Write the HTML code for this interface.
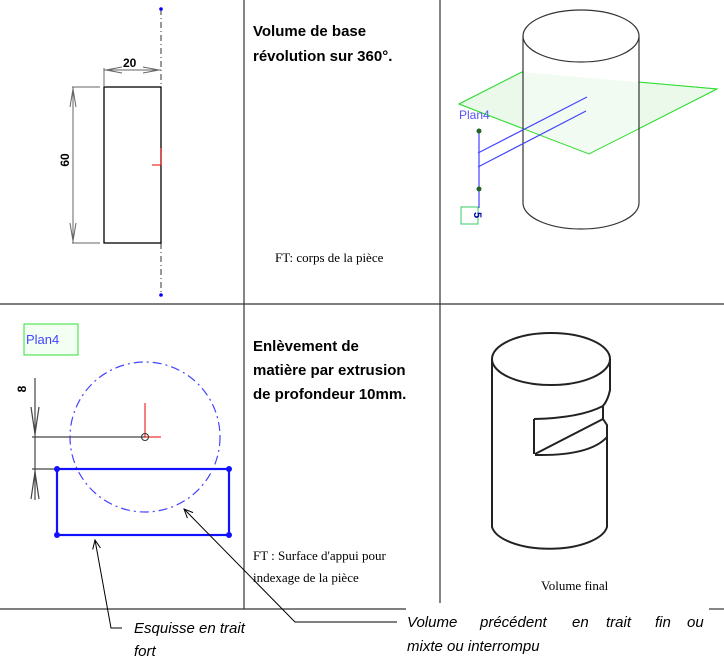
<!DOCTYPE html>
<html><head><meta charset="utf-8"><style>
body{margin:0;background:#fff;}
svg{display:block;}
.b{font-family:"Liberation Sans",sans-serif;font-weight:bold;font-size:15px;fill:#000;}
.t{font-family:"Liberation Serif",serif;font-size:13px;fill:#000;}
.i{font-family:"Liberation Sans",sans-serif;font-style:italic;font-size:15px;fill:#000;}
</style></head><body>
<svg width="724" height="667" viewBox="0 0 724 667" xmlns="http://www.w3.org/2000/svg">
<defs>
<marker id="ah" markerWidth="10" markerHeight="10" refX="9" refY="5" orient="auto" markerUnits="userSpaceOnUse"><path d="M0,1 L9,5 L0,9" fill="none" stroke="#000" stroke-width="1"/></marker>
</defs>
<g stroke="#333" stroke-width="1.2" fill="none">
<line x1="244" y1="0" x2="244" y2="609"/>
<line x1="440" y1="0" x2="440" y2="603"/>
<line x1="0" y1="304" x2="724" y2="304"/>
<line x1="0" y1="609" x2="406" y2="609"/>
<line x1="709" y1="609" x2="724" y2="609"/>
</g>
<line x1="161" y1="9" x2="161" y2="295" stroke="#333" stroke-width="1" stroke-dasharray="6,3,1,3"/>
<circle cx="161" cy="9" r="1.8" fill="#00f"/><circle cx="161" cy="295" r="1.8" fill="#00f"/>
<rect x="104" y="87" width="57" height="156" fill="none" stroke="#000" stroke-width="1.3"/>
<g stroke="#666" stroke-width="1" fill="none">
<line x1="104" y1="68" x2="104" y2="87"/><line x1="104" y1="70" x2="161" y2="70"/>
<line x1="72" y1="87" x2="100" y2="87"/><line x1="72" y1="243" x2="100" y2="243"/>
<line x1="73" y1="87" x2="73" y2="243"/>
<path d="M70,107 L73,89 L76,107 M70,223 L73,241 L76,223"/>
<path d="M122,67 L106,70 L122,73 M143,67 L159,70 L143,73"/>
</g>
<text x="123" y="67" style="font-family:'Liberation Sans',sans-serif;font-weight:bold;font-size:12px">20</text>
<text transform="translate(69,160) rotate(-90)" text-anchor="middle" style="font-family:'Liberation Sans',sans-serif;font-weight:bold;font-size:12px">60</text>
<path d="M161,148 L161,165 L152,165" stroke="#e00" fill="none" stroke-width="1"/>
<text x="253" y="36" class="b">Volume de base</text>
<text x="253" y="61" class="b">révolution sur 360°.</text>
<text x="275" y="262" class="t">FT: corps de la pièce</text>
<!-- top right 3D -->
<polygon points="459,104 522,72 717,89 589,154" fill="#eefaee" stroke="#3d3" stroke-width="1"/>
<path d="M523,36 L523,203 A58,26 0 0 0 639,203 L639,36 Z" fill="#fff" stroke="none"/>
<polygon points="459,104 522,72 717,89 589,154" fill="#e6f8e6" fill-opacity="0.5" stroke="none"/>
<path d="M459,104 L589,154 L717,89 L639,82 M523,73 L522,72 L459,104" fill="none" stroke="#3d3" stroke-width="1"/>
<g stroke="#333" stroke-width="1.2" fill="none">
<path d="M523,36 L523,203 A58,26 0 0 0 639,203 L639,36"/>
<ellipse cx="581" cy="36" rx="58" ry="26" fill="#fff"/>
</g>
<g stroke="#44f" stroke-width="1.2" fill="none">
<line x1="478" y1="153" x2="587" y2="97"/>
<line x1="478" y1="167" x2="586" y2="111"/>
<line x1="479" y1="130" x2="479" y2="208"/>
</g>
<circle cx="479" cy="131" r="2.5" fill="#262"/><circle cx="479" cy="189" r="2.5" fill="#262"/>
<text x="459" y="119" style="font-family:'Liberation Sans',sans-serif;font-size:12px;fill:#55f">Plan4</text>
<rect x="461" y="207" width="17" height="17" fill="#fff" stroke="#3c6" stroke-width="1"/>
<text transform="translate(474,215) rotate(90)" text-anchor="middle" style="font-family:'Liberation Sans',sans-serif;font-weight:bold;font-size:11px;fill:#00a">5</text>
<!-- middle left -->
<rect x="24" y="324" width="54" height="31" fill="#f4fff4" stroke="#3d3" stroke-width="1"/>
<text x="26" y="344" style="font-family:'Liberation Sans',sans-serif;font-size:13px;fill:#44f">Plan4</text>
<circle cx="145" cy="437" r="75" fill="none" stroke="#44f" stroke-width="1.2" stroke-dasharray="9,4,2,4"/>
<g stroke="#444" stroke-width="1.2" fill="none">
<line x1="32" y1="437" x2="145" y2="437"/>
<line x1="32" y1="469" x2="229" y2="469"/>
<line x1="35" y1="378" x2="35" y2="500"/>
<path d="M31,407 L35,434 L39,407 M31,499 L35,472 L39,499"/>
</g>
<text transform="translate(26,389) rotate(-90)" text-anchor="middle" style="font-family:'Liberation Sans',sans-serif;font-weight:bold;font-size:12px">8</text>
<path d="M145,437 L145,403 M145,437 L161,437" stroke="#e00" stroke-width="1" fill="none"/>
<circle cx="145" cy="437" r="3.5" fill="none" stroke="#333"/>
<rect x="57" y="469" width="172" height="66" fill="none" stroke="#11f" stroke-width="2.2"/>
<g fill="#11f"><circle cx="57" cy="469" r="3"/><circle cx="229" cy="469" r="3"/><circle cx="57" cy="535" r="3"/><circle cx="229" cy="535" r="3"/></g>
<polyline points="122,628 111,628 95,540" fill="none" stroke="#000" stroke-width="1" marker-end="url(#ah)"/>
<polyline points="397,622 295,622 184,509" fill="none" stroke="#000" stroke-width="1" marker-end="url(#ah)"/>
<text x="253" y="351" class="b">Enlèvement de</text>
<text x="253" y="375" class="b">matière par extrusion</text>
<text x="253" y="399" class="b">de profondeur  10mm.</text>
<text x="253" y="560" class="t">FT : Surface d'appui pour</text>
<text x="253" y="582" class="t">indexage de la pièce</text>
<g stroke="#222" stroke-width="2" fill="none">
<ellipse cx="551" cy="359" rx="59" ry="26"/>
<path d="M492,359 L492,527 A58,25 0 0 0 607,527 L607,425 L603,419"/>
<path d="M610,359 L610,390 Q608,400 603,406 L603,419"/>
<path d="M534,419 L534,454 M534,419 Q580,418 603,406 M535,454 L603,419 M535,455 Q590,456 607,437"/>
</g>
<text x="541" y="590" class="t">Volume final</text>
<text x="134" y="633" class="i">Esquisse en trait</text>
<text x="134" y="656" class="i">fort</text>
<text x="407" y="627" class="i"><tspan x="407">Volume</tspan><tspan x="480">précédent</tspan><tspan x="572">en</tspan><tspan x="606">trait</tspan><tspan x="655">fin</tspan><tspan x="687">ou</tspan></text>
<text x="407" y="651" class="i">mixte ou interrompu</text>
</svg>
</body></html>
